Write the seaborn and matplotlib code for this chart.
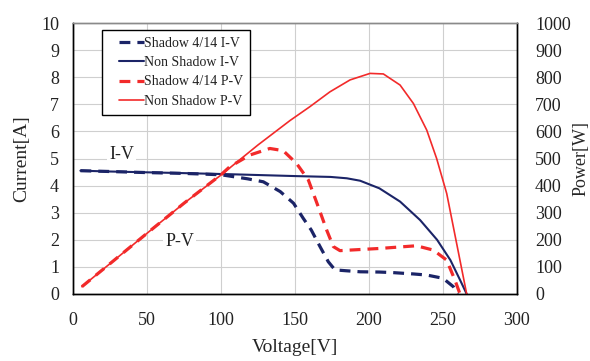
import matplotlib
matplotlib.use("Agg")
import matplotlib.pyplot as plt
from matplotlib.legend_handler import HandlerLine2D
from matplotlib.lines import Line2D
import numpy as np
import seaborn as sns
import pandas as pd

# I-V curve, no shading: voltage [V], current [A]
iv_full_v = [5, 25, 50, 75, 106, 125, 151, 174, 185, 194, 207, 221, 234.5, 246, 255, 261.5, 266]
iv_full_i = [4.55, 4.52, 4.49, 4.46, 4.42, 4.39, 4.35, 4.32, 4.27, 4.18, 3.90, 3.41, 2.73, 2.00, 1.25, 0.52, 0.0]

# I-V curve with 4/14 shading
iv_shad_v = [5, 25, 50, 75, 100, 106, 118, 128.6, 140, 149, 155.6, 161, 166.9, 172.5, 177, 184, 194, 207, 216,
             230, 239, 250, 257, 260]
iv_shad_i = [4.55, 4.52, 4.48, 4.45, 4.40, 4.35, 4.25, 4.14, 3.78, 3.35, 2.79, 2.36, 1.75, 1.19, 0.89, 0.86, 0.82,
             0.81, 0.79, 0.74, 0.70, 0.58, 0.27, 0.0]

# P-V curve, no shading: voltage [V], power [W]
pv_full_v = [6, 25, 50, 75, 100, 125, 146.6, 160, 173.6, 187.2, 200.7, 209.7, 221, 230, 239, 245.7, 252.5, 259.2, 266]
pv_full_p = [27, 112, 224, 335, 439, 550, 640, 691, 746, 790, 814, 812, 771, 703, 605, 500, 371, 187, 0]

# P-V curve with 4/14 shading
pv_shad_v = [6, 25, 50, 75, 100, 106, 119.6, 133, 142, 151, 159, 165.7, 171.4, 175.9, 180.4, 187, 207, 232,
             243.5, 252.5, 258, 261.5]
pv_shad_p = [27, 112, 224, 335, 440, 470, 513, 537, 529, 482, 421, 322, 236, 175, 160, 162, 168, 178,
             162, 125, 52, 0]

x_ticks = [0, 50, 100, 150, 200, 250, 300]
i_ticks = list(range(0, 11))
p_ticks = list(range(0, 1001, 100))

NAVY = "#1b2467"
RED = "#f22a2a"


class ShortHandle(HandlerLine2D):
    """Legend line that only covers the right part of the handle box."""

    def create_artists(self, legend, orig_handle, xdescent, ydescent,
                       width, height, fontsize, trans):
        artists = super().create_artists(legend, orig_handle, xdescent, ydescent,
                                         width, height, fontsize, trans)
        for a in artists:
            if isinstance(a, Line2D) and a.get_linestyle() not in ("None", "none", ""):
                n = len(a.get_xdata())
                if n >= 2:
                    a.set_xdata(np.linspace(-xdescent + width * 0.29, -xdescent + width, n))
        return artists


sns.set_theme(style="white")
plt.rcParams["font.family"] = ["Liberation Serif", "DejaVu Serif"]
plt.rcParams["text.color"] = "#222222"

fig = plt.figure(figsize=(5.9, 3.61), dpi=100)
ax = fig.add_axes([73 / 590, 67 / 361, 444 / 590, 271 / 361])
ax2 = ax.twinx()

df_iv_full = pd.DataFrame({"V": iv_full_v, "I": iv_full_i})
df_iv_shad = pd.DataFrame({"V": iv_shad_v, "I": iv_shad_i})
df_pv_full = pd.DataFrame({"V": pv_full_v, "P": pv_full_p})
df_pv_shad = pd.DataFrame({"V": pv_shad_v, "P": pv_shad_p})

dash = (0, (3.4, 2.2))
sns.lineplot(data=df_iv_shad, x="V", y="I", ax=ax, color=NAVY, lw=2.3,
             linestyle=dash, sort=False, label="Shadow 4/14 I-V", legend=False)
sns.lineplot(data=df_iv_full, x="V", y="I", ax=ax, color=NAVY, lw=1.5,
             sort=False, label="Non Shadow I-V", legend=False)
sns.lineplot(data=df_pv_shad, x="V", y="P", ax=ax2, color=RED, lw=2.3,
             linestyle=dash, sort=False, label="Shadow 4/14 P-V", legend=False)
sns.lineplot(data=df_pv_full, x="V", y="P", ax=ax2, color=RED, lw=1.2,
             sort=False, label="Non Shadow P-V", legend=False)

ax.set_xlim(0, 300)
ax.set_ylim(0, 10)
ax2.set_ylim(0, 1000)
ax.set_xticks(x_ticks)
ax.set_yticks(i_ticks)
ax2.set_yticks(p_ticks)

ax.grid(True, color="#cfcfcf", lw=0.8)
ax2.grid(False)

for a in (ax, ax2):
    a.tick_params(length=0, labelsize=13, colors="#222222")
    for s in a.spines.values():
        s.set_color("black")
        s.set_linewidth(1.0)
    a.spines["top"].set_color("#8a8a8a")
ax.tick_params(axis="y", pad=10)
ax.tick_params(axis="x", pad=13)
ax2.tick_params(axis="y", pad=13)

ax.set_xlabel("Voltage[V]", fontsize=14, labelpad=7)
ax.set_ylabel("Current[A]", fontsize=14, labelpad=8)
ax2.set_ylabel("Power[W]", fontsize=13, labelpad=1)

box = dict(facecolor="white", edgecolor="none", pad=1.5)
ax.text(33, 5.13, "I-V", fontsize=13, ha="center", va="center", bbox=box)
ax.text(72, 1.93, "P-V", fontsize=13, ha="center", va="center", bbox=box)

h1, l1 = ax.get_legend_handles_labels()
h2, l2 = ax2.get_legend_handles_labels()
leg = ax2.legend(h1 + h2, l1 + l2, loc="upper left", bbox_to_anchor=(0.065, 0.974),
                 fontsize=10, frameon=True, fancybox=False, framealpha=1,
                 edgecolor="black", handlelength=2.5, handletextpad=0.0,
                 borderpad=0.5, labelspacing=0.45, borderaxespad=0,
                 handler_map={Line2D: ShortHandle()})
leg.get_frame().set_linewidth(1.0)

fig.savefig("out.png", dpi=100)
